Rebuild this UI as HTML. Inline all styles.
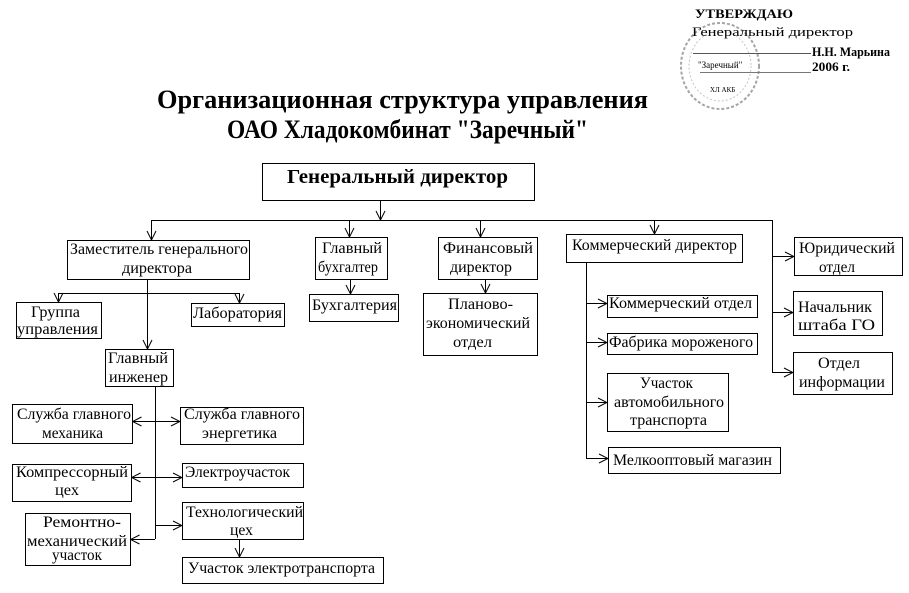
<!DOCTYPE html>
<html><head><meta charset="utf-8"><style>
html,body{margin:0;padding:0;background:#fff;}
svg{display:block;}
text{font-family:"Liberation Serif","DejaVu Serif",serif;fill:#000;}
.t{font-size:16px;}
</style></head><body>
<svg width="909" height="593" viewBox="0 0 909 593" xmlns="http://www.w3.org/2000/svg">
<defs>
<marker id="a" viewBox="0 0 10 10" refX="10" refY="5" markerWidth="10" markerHeight="10" markerUnits="userSpaceOnUse" orient="auto">
<path d="M1,0.5 L10,5 L1,9.5" fill="none" stroke="#000" stroke-width="1"/>
</marker>
</defs>

<!-- Stamp -->
<g>
<ellipse cx="720" cy="66" rx="39" ry="43" fill="none" stroke="#a5a5a5" stroke-width="2" stroke-dasharray="3 2"/>
<ellipse cx="720" cy="66" rx="31" ry="35" fill="none" stroke="#c4c4c4" stroke-width="1" stroke-dasharray="2 2"/>
<text x="695" y="18" font-size="13" font-weight="bold" textLength="98" lengthAdjust="spacingAndGlyphs" fill="#222">УТВЕРЖДАЮ</text>
<text x="692" y="36" font-size="13" textLength="161" lengthAdjust="spacingAndGlyphs" fill="#333">Генеральный директор</text>
<text x="812" y="56" font-size="13" font-weight="bold" textLength="78" lengthAdjust="spacingAndGlyphs" fill="#333">Н.Н. Марьина</text>
<text x="812" y="71" font-size="13" font-weight="bold" textLength="38" lengthAdjust="spacingAndGlyphs" fill="#333">2006 г.</text>
<line x1="693" y1="53.5" x2="811" y2="53.5" stroke="#555" stroke-width="1"/>
<line x1="700" y1="72.5" x2="811" y2="72.5" stroke="#777" stroke-width="1"/>
<text x="698" y="68" font-size="9" fill="#999">"Заречный"</text>
<text x="710" y="92" font-size="7" fill="#aaa">ХЛ АКБ</text>
</g>

<!-- Title -->
<text x="157" y="108" font-size="26" font-weight="bold" textLength="491" lengthAdjust="spacingAndGlyphs">Организационная структура управления</text>
<text x="227" y="138" font-size="26" font-weight="bold" textLength="361" lengthAdjust="spacingAndGlyphs">ОАО Хладокомбинат "Заречный"</text>

<g fill="none" stroke="#000" stroke-width="1" shape-rendering="crispEdges">
<!-- boxes -->
<rect x="262.5" y="163.5" width="272" height="37"/>
<rect x="67.5" y="240.5" width="182" height="39"/>
<rect x="16.5" y="302.5" width="85" height="36"/>
<rect x="191.5" y="303.5" width="93" height="23"/>
<rect x="105.5" y="349.5" width="68" height="37"/>
<rect x="12.5" y="404.5" width="120" height="39"/>
<rect x="180.5" y="407.5" width="123" height="37"/>
<rect x="12.5" y="464.5" width="119" height="37"/>
<rect x="182.5" y="463.5" width="121" height="24"/>
<rect x="182.5" y="502.5" width="121" height="37"/>
<rect x="25.5" y="513.5" width="105" height="52"/>
<rect x="182.5" y="557.5" width="201" height="26"/>
<rect x="315.5" y="237.5" width="72" height="42"/>
<rect x="309.5" y="294.5" width="89" height="27"/>
<rect x="438.5" y="237.5" width="99" height="42"/>
<rect x="423.5" y="293.5" width="114" height="62"/>
<rect x="566.5" y="234.5" width="176" height="28"/>
<rect x="607.5" y="295.5" width="150" height="22"/>
<rect x="607.5" y="333.5" width="150" height="21"/>
<rect x="607.5" y="373.5" width="121" height="58"/>
<rect x="608.5" y="447.5" width="172" height="26"/>
<rect x="794.5" y="237.5" width="108" height="38"/>
<rect x="793.5" y="291.5" width="89" height="44"/>
<rect x="793.5" y="352.5" width="99" height="42"/>
<!-- plain lines -->
<line x1="151" y1="220.5" x2="772" y2="220.5"/>
<line x1="58" y1="293.5" x2="239" y2="293.5"/>
<line x1="155.5" y1="386" x2="155.5" y2="539"/>
<line x1="586.5" y1="262" x2="586.5" y2="458"/>
<line x1="772.5" y1="220" x2="772.5" y2="372"/>
</g>

<g fill="none" stroke="#000" stroke-width="1" marker-end="url(#a)">
<line x1="380.5" y1="200" x2="380.5" y2="220"/>
<line x1="151.5" y1="220" x2="151.5" y2="240"/>
<line x1="147.5" y1="279" x2="147.5" y2="349"/>
<line x1="58.5" y1="293" x2="58.5" y2="302"/>
<line x1="239.5" y1="293" x2="239.5" y2="303"/>
<line x1="155" y1="421.5" x2="132.5" y2="421.5"/>
<line x1="155" y1="421.5" x2="180" y2="421.5"/>
<line x1="155" y1="477.5" x2="131.5" y2="477.5"/>
<line x1="155" y1="477.5" x2="182" y2="477.5"/>
<line x1="155" y1="525.5" x2="182" y2="525.5"/>
<line x1="155" y1="539.5" x2="130.5" y2="539.5"/>
<line x1="239.5" y1="539" x2="239.5" y2="557"/>
<line x1="349.5" y1="220" x2="349.5" y2="237"/>
<line x1="350.5" y1="279" x2="350.5" y2="294"/>
<line x1="480.5" y1="220" x2="480.5" y2="237"/>
<line x1="485.5" y1="279" x2="485.5" y2="293"/>
<line x1="654.5" y1="220" x2="654.5" y2="234"/>
<line x1="586" y1="303.5" x2="607" y2="303.5"/>
<line x1="586" y1="342.5" x2="607" y2="342.5"/>
<line x1="586" y1="402.5" x2="607" y2="402.5"/>
<line x1="586" y1="458.5" x2="608" y2="458.5"/>
<line x1="772" y1="256.5" x2="794" y2="256.5"/>
<line x1="772" y1="312.5" x2="793" y2="312.5"/>
<line x1="772" y1="372.5" x2="793" y2="372.5"/>
</g>

<!-- Text -->
<text x="287" y="183" font-size="20" font-weight="bold" textLength="221" lengthAdjust="spacingAndGlyphs">Генеральный директор</text>
<g class="t">
<text x="70" y="254" textLength="178" lengthAdjust="spacingAndGlyphs">Заместитель генерального</text>
<text x="122" y="273" textLength="70" lengthAdjust="spacingAndGlyphs">директора</text>
<text x="31" y="317" textLength="49" lengthAdjust="spacingAndGlyphs">Группа</text>
<text x="17" y="334" textLength="81" lengthAdjust="spacingAndGlyphs">управления</text>
<text x="193" y="318" textLength="89" lengthAdjust="spacingAndGlyphs">Лаборатория</text>
<text x="108" y="363" textLength="60" lengthAdjust="spacingAndGlyphs">Главный</text>
<text x="109" y="382" textLength="59" lengthAdjust="spacingAndGlyphs">инженер</text>
<text x="17" y="419" textLength="114" lengthAdjust="spacingAndGlyphs">Служба главного</text>
<text x="42" y="438" textLength="61" lengthAdjust="spacingAndGlyphs">механика</text>
<text x="184" y="419" textLength="116" lengthAdjust="spacingAndGlyphs">Служба главного</text>
<text x="202" y="438" textLength="75" lengthAdjust="spacingAndGlyphs">энергетика</text>
<text x="16" y="477" textLength="112" lengthAdjust="spacingAndGlyphs">Компрессорный</text>
<text x="55" y="495" textLength="24" lengthAdjust="spacingAndGlyphs">цех</text>
<text x="185" y="477" textLength="105" lengthAdjust="spacingAndGlyphs">Электроучасток</text>
<text x="186" y="517" textLength="117" lengthAdjust="spacingAndGlyphs">Технологический</text>
<text x="230" y="535" textLength="23" lengthAdjust="spacingAndGlyphs">цех</text>
<text x="43" y="527" textLength="78" lengthAdjust="spacingAndGlyphs">Ремонтно-</text>
<text x="27" y="546" textLength="100" lengthAdjust="spacingAndGlyphs">механический</text>
<text x="52" y="560" textLength="50" lengthAdjust="spacingAndGlyphs">участок</text>
<text x="188" y="573" textLength="187" lengthAdjust="spacingAndGlyphs">Участок электротранспорта</text>
<text x="322" y="253" textLength="60" lengthAdjust="spacingAndGlyphs">Главный</text>
<text x="318" y="272" textLength="60" lengthAdjust="spacingAndGlyphs">бухгалтер</text>
<text x="312" y="310" textLength="85" lengthAdjust="spacingAndGlyphs">Бухгалтерия</text>
<text x="443" y="253" textLength="90" lengthAdjust="spacingAndGlyphs">Финансовый</text>
<text x="450" y="272" textLength="62" lengthAdjust="spacingAndGlyphs">директор</text>
<text x="448" y="309" textLength="65" lengthAdjust="spacingAndGlyphs">Планово-</text>
<text x="426" y="328" textLength="104" lengthAdjust="spacingAndGlyphs">экономический</text>
<text x="453" y="347" textLength="39" lengthAdjust="spacingAndGlyphs">отдел</text>
<text x="572" y="250" textLength="165" lengthAdjust="spacingAndGlyphs">Коммерческий директор</text>
<text x="609" y="308" textLength="143" lengthAdjust="spacingAndGlyphs">Коммерческий отдел</text>
<text x="609" y="347" textLength="144" lengthAdjust="spacingAndGlyphs">Фабрика мороженого</text>
<text x="640" y="388" textLength="53" lengthAdjust="spacingAndGlyphs">Участок</text>
<text x="614" y="407" textLength="110" lengthAdjust="spacingAndGlyphs">автомобильного</text>
<text x="630" y="425" textLength="77" lengthAdjust="spacingAndGlyphs">транспорта</text>
<text x="613" y="465" textLength="159" lengthAdjust="spacingAndGlyphs">Мелкооптовый магазин</text>
<text x="799" y="253" textLength="96" lengthAdjust="spacingAndGlyphs">Юридический</text>
<text x="819" y="272" textLength="36" lengthAdjust="spacingAndGlyphs">отдел</text>
<text x="798" y="312" textLength="74" lengthAdjust="spacingAndGlyphs">Начальник</text>
<text x="798" y="330" textLength="77" lengthAdjust="spacingAndGlyphs">штаба ГО</text>
<text x="818" y="368" textLength="42" lengthAdjust="spacingAndGlyphs">Отдел</text>
<text x="799" y="387" textLength="86" lengthAdjust="spacingAndGlyphs">информации</text>
</g>
</svg>
</body></html>
